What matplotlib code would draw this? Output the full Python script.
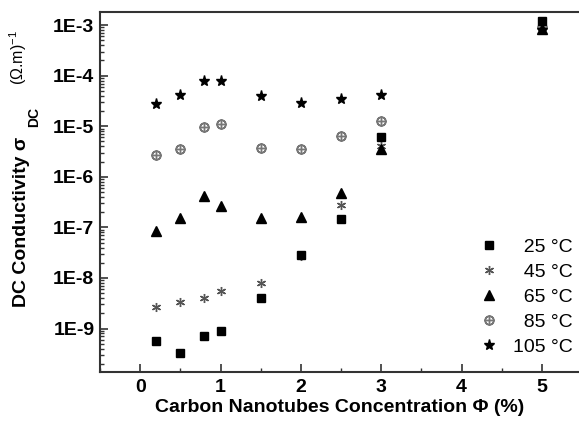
import matplotlib
matplotlib.use("Agg")
import matplotlib.pyplot as plt

plt.rcParams['font.family'] = ['Liberation Sans', 'DejaVu Sans']
plt.rcParams['mathtext.fontset'] = 'custom'
plt.rcParams['mathtext.rm'] = 'Liberation Sans'
plt.rcParams['mathtext.bf'] = 'Liberation Sans:bold'

# CNT concentration (%)
conc = [0.2, 0.5, 0.8, 1.0, 1.5, 2.0, 2.5, 3.0, 5.0]

# DC conductivity (Ohm.m)^-1 per temperature
s25 = [5.6e-10, 3.3e-10, 7.0e-10, 9.0e-10, 4.0e-9, 2.8e-8, 1.45e-7, 6.0e-6, 1.2e-3]
s45 = [2.7e-9, 3.4e-9, 4.0e-9, 5.5e-9, 8.1e-9, 2.7e-8, 2.8e-7, 4.0e-6, 9.5e-4]
s65 = [8.5e-8, 1.5e-7, 4.1e-7, 2.6e-7, 1.5e-7, 1.6e-7, 4.8e-7, 3.6e-6, 8.5e-4]
s85 = [2.7e-6, 3.5e-6, 9.5e-6, 1.1e-5, 3.7e-6, 3.5e-6, 6.3e-6, 1.25e-5, 9.0e-4]
s105 = [2.7e-5, 4.1e-5, 7.9e-5, 8.0e-5, 3.9e-5, 2.9e-5, 3.4e-5, 4.2e-5, 8.0e-4]

labels = ["  25 °C", "  45 °C", "  65 °C", "  85 °C", "105 °C"]
yticks = [1e-9, 1e-8, 1e-7, 1e-6, 1e-5, 1e-4, 1e-3]
yticklabels = ["1E-9", "1E-8", "1E-7", "1E-6", "1E-5", "1E-4", "1E-3"]

W, H = 579, 421
fig = plt.figure(figsize=(W / 100, H / 100), dpi=100)
ax = fig.add_axes([100 / W, 49 / H, 482 / W, 360 / H])

ax.plot(conc, s25, ls='none', marker='s', ms=5.5, color='black', label=labels[0], zorder=5)
ax.plot(conc, s45, ls='none', marker=(6, 2, 0), ms=6.5, mew=1.0, color='#555555', label=labels[1], zorder=3)
ax.plot(conc, s65, ls='none', marker='^', ms=7, color='black', label=labels[2], zorder=4)
ax.plot(conc, s85, ls='none', marker=r'$\oplus$', ms=6.5, color='#777777', label=labels[3], zorder=3)
ax.plot(conc, s105, ls='none', marker='*', ms=8, color='black', label=labels[4], zorder=3)

ax.set_yscale('log')
ax.set_xlim(-0.5, 5.5)
ax.set_ylim(10 ** -9.86, 10 ** -2.74)
ax.set_xticks([0, 1, 2, 3, 4, 5])
ax.set_xticks([-0.5, 0.5, 1.5, 2.5, 3.5, 4.5], minor=True)
ax.set_yticks(yticks)
ax.set_yticklabels(yticklabels)

for s in ax.spines.values():
    s.set_color('#333333')
    s.set_linewidth(1.5)

ax.tick_params(axis='both', which='both', direction='in', top=False, right=False, color='#333333')
ax.tick_params(axis='both', which='major', length=6, width=1.2, labelsize=14)
ax.tick_params(axis='both', which='minor', length=3, width=1.0)
ax.tick_params(axis='x', which='major', pad=5)
ax.tick_params(axis='y', which='major', pad=4)
for t in ax.get_xticklabels() + ax.get_yticklabels():
    t.set_fontweight('bold')

fig.text(340 / W, 1 - 408 / H, "Carbon Nanotubes Concentration Φ (%)",
         ha='center', va='center', fontsize=14, fontweight='bold')
fig.text(22 / W, 1 - 222 / H, "DC Conductivity σ", rotation=90,
         ha='center', va='center', fontsize=14, fontweight='bold')
fig.text(34 / W, 1 - 117 / H, "DC", rotation=90,
         ha='center', va='center', fontsize=10, fontweight='bold')
fig.text(18 / W, 1 - 58 / H, r"(Ω.m)$^{-1}$", rotation=90,
         ha='center', va='center', fontsize=11.5)

ax.legend(loc='lower right', bbox_to_anchor=(582 / W - 0.003, 57 / H),
          bbox_transform=fig.transFigure, frameon=False, fontsize=14,
          handletextpad=0.6, labelspacing=0.38, borderaxespad=0, handlelength=1.2)

fig.savefig("out.png", dpi=100)
